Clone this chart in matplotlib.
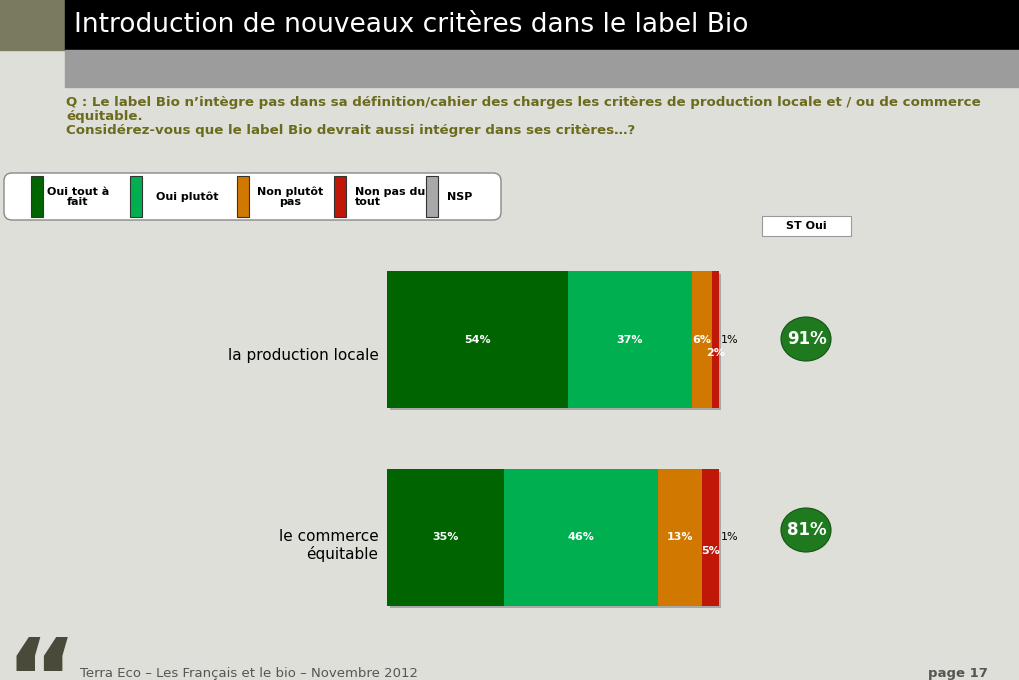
import matplotlib.pyplot as plt
import matplotlib.patches as mpatches

categories = ["la production locale", "le commerce\néquitable"]
series = ["Oui tout à\nfait", "Oui plutôt", "Non plutôt\npas", "Non pas du\ntout", "NSP"]
values = [[54, 37, 6, 2, 1], [35, 46, 13, 5, 1]]
st_oui = [91, 81]
colors = ["#006400", "#00b050", "#d07800", "#c01808", "#a8a8a8"]
bg = "#dfdfd9"

fig = plt.figure(figsize=(10.2, 6.8), dpi=100, facecolor=bg)
W, H = 1020, 680
deco = fig.add_axes([0, 0, 1, 1])
deco.set_xlim(0, W); deco.set_ylim(H, 0); deco.axis("off")

# header
deco.add_patch(mpatches.Rectangle((0, 0), 65, 50, color="#7a7a5e"))
deco.add_patch(mpatches.Rectangle((65, 0), W - 65, 50, color="black"))
deco.add_patch(mpatches.Rectangle((65, 50), W - 65, 37, color="#9c9c9c"))
deco.text(74, 25, "Introduction de nouveaux critères dans le label Bio", color="white",
          fontsize=19, va="center", family="DejaVu Sans")
q = ("Q : Le label Bio n’intègre pas dans sa définition/cahier des charges les critères de production locale et / ou de commerce\n"
     "équitable.\nConsidérez-vous que le label Bio devrait aussi intégrer dans ses critères…?")
deco.text(66, 96, q, color="#6b6b1e", fontsize=9.6, fontweight="bold", va="top", linespacing=1.1)

# legend box
deco.add_patch(mpatches.FancyBboxPatch((4, 173), 497, 47, boxstyle="round,pad=0,rounding_size=8",
                                       fc="white", ec="#888888", lw=1))
leg_x = [31, 130, 237, 334, 426]
tx_off = [47, 26, 53, 21, 21]
for x, lab, c, o in zip(leg_x, series, colors, tx_off):
    deco.add_patch(mpatches.Rectangle((x, 176), 12, 41, fc=c, ec="#333333", lw=0.8))
    ha = "center" if (lab.startswith("Non plut") or lab.startswith("Oui tout")) else "left"
    deco.text(x + o, 197, lab, fontsize=8, fontweight="bold", ha=ha, va="center", linespacing=1.0)

# ST Oui box
deco.add_patch(mpatches.Rectangle((762, 216), 89, 20, fc="white", ec="#999999", lw=0.8))
deco.text(806, 226, "ST Oui", fontsize=8, fontweight="bold", ha="center", va="center")

# bars
ax = fig.add_axes([387 / W, 1 - 610 / H, 340 / W, (610 - 267) / H])
ax.set_xlim(0, 340 / 335 * 100); ax.set_ylim(1.367, -0.367); ax.axis("off"); ax.patch.set_alpha(0)
bh = 0.69
for i, row in enumerate(values):
    left = 0
    for j, v in enumerate(row):
        if j == 4:
            left += v
            continue
        ax.barh(i, v, left=left, height=bh, color=colors[j], zorder=2)
        ax.barh(i + 0.012, v, left=left + 0.8, height=bh, color="#a8a8a8", zorder=1)
        left += v
    l0 = 0
    for j, v in enumerate(row):
        if j <= 2:
            ax.text(l0 + v / 2, i, f"{v}%", color="white", fontsize=8,
                    fontweight="bold", ha="center", va="center", zorder=3)
        elif j == 3:
            ax.text(l0 + v / 2, i + 0.07, f"{v}%", color="white", fontsize=8,
                    fontweight="bold", ha="center", va="center", zorder=3)
        else:
            ax.text(l0 + 0.7, i, f"{v}%", color="black", fontsize=8,
                    ha="left", va="center", zorder=3)
        l0 += v
    ax.text(-2.5, i + (0.08 if i == 0 else 0.04), categories[i], fontsize=11, ha="right", va="center")

# ST Oui circles
for y, s in zip([339, 530], st_oui):
    deco.add_patch(mpatches.Ellipse((806, y), 50, 44, fc="#1f7a1f", ec="#155215", lw=0.8))
    deco.text(807, y, f"{s}%", color="white", fontsize=12, fontweight="bold", ha="center", va="center")

# footer
deco.text(4, 740, "“", fontsize=80, color="#4a4a3a", va="bottom", fontweight="bold", clip_on=True)
deco.text(80, 673, "Terra Eco – Les Français et le bio – Novembre 2012", fontsize=9.5,
          color="#555555", va="center")
deco.text(988, 673, "page 17", fontsize=9.5, color="#555555", va="center", ha="right", fontweight="bold")

fig.savefig("out.png", dpi=100, facecolor=bg)
